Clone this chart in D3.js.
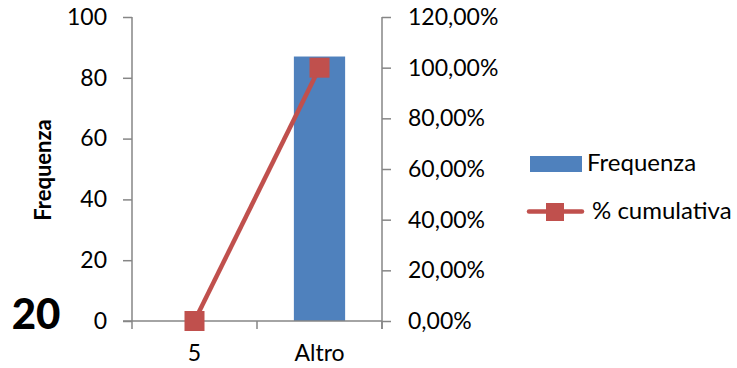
<!DOCTYPE html>
<html><head><meta charset="utf-8">
<script src="https://cdn.jsdelivr.net/npm/d3@7/dist/d3.min.js"></script>
<style>body{margin:0;background:#fff}svg{display:block}text{font-family:Lato,"Open Sans",sans-serif}</style>
</head><body><svg id="c" width="737" height="368"></svg>
<script>
const categories = ["5", "Altro"];
const frequenza = [0, 87];
const cumulativa = [0, 1.0];
const leftTicks = [0, 20, 40, 60, 80, 100];
const rightTicks = [0, 0.2, 0.4, 0.6, 0.8, 1.0, 1.2];
const seriesNames = ["Frequenza", "% cumulativa"];
const yTitle = "Frequenza";
const cornerLabel = "20";

const svg = d3.select("#c");
const L = 132, R = 382, T = 17, B = 321;
const axisColor = "#868686", barColor = "#4F81BD", lineColor = "#C0504D";

const x = d3.scaleBand().domain(categories).range([L, R]);
const yL = d3.scaleLinear().domain([0, 100]).range([B, T]);
const yR = d3.scaleLinear().domain([0, 1.2]).range([B, T]);

// bars
svg.selectAll("rect.bar").data(categories.map((c,i)=>({c, v: frequenza[i]})).filter(d=>d.v>0))
  .enter().append("rect").attr("class","bar")
  .attr("x", d => x(d.c) + x.bandwidth()*0.295)
  .attr("width", x.bandwidth()*0.41)
  .attr("y", d => yL(d.v)).attr("height", d => B - yL(d.v))
  .attr("fill", barColor);

// left axis
const gl = svg.append("g").attr("transform", `translate(${L},0)`)
  .call(d3.axisLeft(yL).tickValues(leftTicks).tickSize(9).tickPadding(16).tickFormat(d3.format("d")));
// right axis
const fmtPct = d => (d*100).toFixed(2).replace(".", ",") + "%";
const gr = svg.append("g").attr("transform", `translate(${R},0)`)
  .call(d3.axisRight(yR).tickValues(rightTicks).tickSize(9).tickPadding(17).tickFormat(fmtPct));
// bottom axis
const gb = svg.append("g").attr("transform", `translate(0,${B})`)
  .call(d3.axisBottom(x).tickSize(0).tickPadding(24));
// boundary ticks on x axis
svg.append("g").selectAll("line").data([L, L + x.step(), R]).enter().append("line")
  .attr("x1", d=>d).attr("x2", d=>d).attr("y1", B).attr("y2", B+8)
  .attr("stroke", axisColor).attr("stroke-width", 1.5);

[gl, gr, gb].forEach(g => {
  g.select(".domain").attr("stroke", axisColor).attr("stroke-width", 1.5);
  g.selectAll(".tick line").attr("stroke", axisColor).attr("stroke-width", 1.5);
  g.selectAll("text").attr("font-size", 23).attr("fill", "#000").style("font-family", "Lato");
});
gl.select(".domain").attr("d", `M0,${T}V${B}`);
gr.select(".domain").attr("d", `M0,${T}V${B+8}`);
gb.select(".domain").attr("d", `M${L-9},0H${R}`);

// line
const pts = categories.map((c,i)=>[x(c)+x.bandwidth()/2, yR(cumulativa[i])]);
svg.append("path").attr("d", d3.line()(pts)).attr("fill","none")
  .attr("stroke", lineColor).attr("stroke-width", 4.5);
svg.selectAll("rect.mk").data(pts).enter().append("rect").attr("class","mk")
  .attr("x", d=>d[0]-10).attr("y", d=>d[1]-10).attr("width", 20).attr("height", 20)
  .attr("fill", lineColor);

// y title
svg.append("text").attr("transform", "translate(51,170) rotate(-90)")
  .attr("text-anchor","middle").attr("font-weight","bold").attr("font-size", 22).text(yTitle);
// corner label
svg.append("text").attr("x", 36).attr("y", 329).attr("text-anchor","middle")
  .attr("font-weight","900").attr("font-size", 42).text(cornerLabel);

// legend
const lg = svg.append("g");
lg.append("rect").attr("x", 530).attr("y", 156).attr("width", 52).attr("height", 16).attr("fill", barColor);
lg.append("text").attr("x", 587).attr("y", 171).attr("font-size", 24).text(seriesNames[0]);
lg.append("line").attr("x1", 529).attr("x2", 582).attr("y1", 211.5).attr("y2", 211.5)
  .attr("stroke", lineColor).attr("stroke-width", 4.5).attr("stroke-linecap","round");
lg.append("rect").attr("x", 546).attr("y", 203).attr("width", 18).attr("height", 18).attr("fill", lineColor);
lg.append("text").attr("x", 592).attr("y", 219).attr("font-size", 24).text(seriesNames[1]);
</script></body></html>
